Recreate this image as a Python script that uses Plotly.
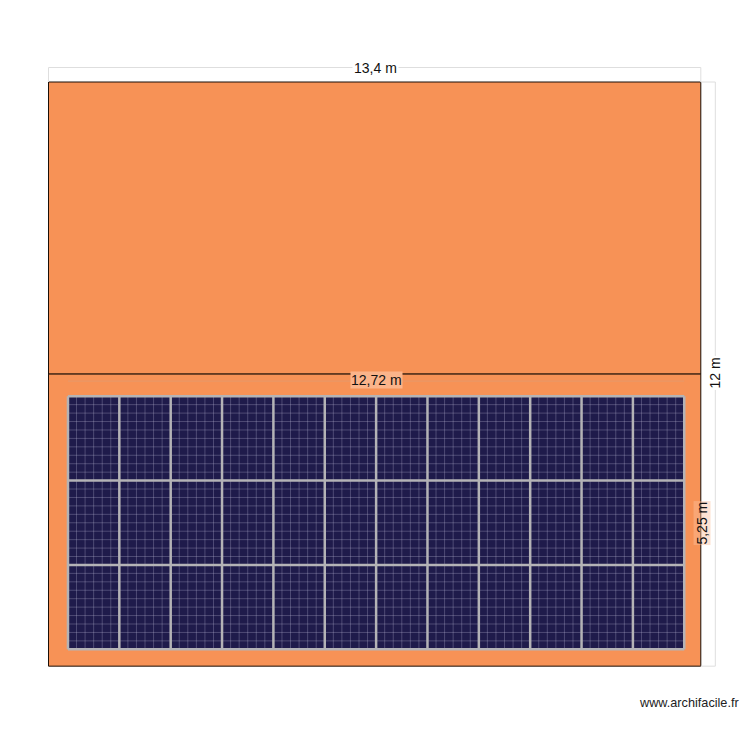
import plotly.graph_objects as go

# roof in metres, measured from the top left corner
roof_width = 13.4
roof_height = 12
ridge_y = 6
roof_sections = [(0, 6), (6, 12)]

# solar field
field_left = 0.40
field_top = 6.455
panel_w = 1.055
panel_h = 1.733
panel_cols = 12
panel_rows = 3
cell_cols = 6
cell_rows = 10

dim_labels = ["13,4 m", "12 m", "12,72 m", "5,25 m"]
credit = "www.archifacile.fr"

PX_PER_M = 48.68
ORIGIN_X = 48.5
ORIGIN_Y = 82

ROOF_COLOR = "#f79256"
PANEL_COLOR = "#1f1b4b"
FRAME_COLOR = "#b4b3b6"
CELL_COLOR = "rgba(190,185,215,0.3)"
DIM_COLOR = "#dedede"


def px_x(p):
    return (p - ORIGIN_X) / PX_PER_M


def px_y(p):
    return (p - ORIGIN_Y) / PX_PER_M


fig = go.Figure()

# roof sections
for top, bottom in roof_sections:
    fig.add_trace(go.Scatter(
        x=[0, roof_width, roof_width, 0, 0],
        y=[top, top, bottom, bottom, top],
        mode="lines",
        fill="toself",
        fillcolor=ROOF_COLOR,
        line=dict(color="#1a0f08", width=1),
        hoverinfo="skip",
    ))

# panels
field_w = panel_w * panel_cols
field_h = panel_h * panel_rows
fig.add_trace(go.Scatter(
    x=[field_left, field_left + field_w, field_left + field_w, field_left, field_left],
    y=[field_top, field_top, field_top + field_h, field_top + field_h, field_top],
    mode="lines",
    fill="toself",
    fillcolor=PANEL_COLOR,
    line=dict(width=0),
    hoverinfo="skip",
))

# cell lines inside the panels
cell_x, cell_y = [], []
for c in range(panel_cols * cell_cols + 1):
    x = field_left + c * panel_w / cell_cols
    cell_x += [x, x, None]
    cell_y += [field_top, field_top + field_h, None]
for r in range(panel_rows * cell_rows + 1):
    y = field_top + r * panel_h / cell_rows
    cell_x += [field_left, field_left + field_w, None]
    cell_y += [y, y, None]
fig.add_trace(go.Scatter(x=cell_x, y=cell_y, mode="lines",
                         line=dict(color=CELL_COLOR, width=1), hoverinfo="skip"))

# panel frames
frame_x, frame_y = [], []
for c in range(panel_cols + 1):
    x = field_left + c * panel_w
    frame_x += [x, x, None]
    frame_y += [field_top, field_top + field_h, None]
for r in range(panel_rows + 1):
    y = field_top + r * panel_h
    frame_x += [field_left, field_left + field_w, None]
    frame_y += [y, y, None]
fig.add_trace(go.Scatter(x=frame_x, y=frame_y, mode="lines",
                         line=dict(color=FRAME_COLOR, width=2.5), hoverinfo="skip"))

# dimension lines
dim_off = 14.5 / PX_PER_M
fig.add_trace(go.Scatter(
    x=[0, 0, None, 0, roof_width, None, roof_width, roof_width, None,
       roof_width, roof_width + dim_off, None,
       roof_width + dim_off, roof_width + dim_off, None,
       roof_width, roof_width + dim_off],
    y=[0, -dim_off, None, -dim_off, -dim_off, None, -dim_off, 0, None,
       0, 0, None,
       0, roof_height, None,
       roof_height, roof_height],
    mode="lines",
    line=dict(color=DIM_COLOR, width=1),
    hoverinfo="skip",
))
inner_y = ridge_y + 7 / PX_PER_M
fig.add_trace(go.Scatter(
    x=[field_left, field_left + field_w],
    y=[inner_y, inner_y],
    mode="lines",
    line=dict(color="rgba(200,170,150,0.35)", width=1),
    hoverinfo="skip",
))

label_font = dict(family="Liberation Sans, Arial, sans-serif", size=14, color="#111111")
LABEL_BG = "#fbb48a"
fig.add_annotation(x=roof_width / 2 + 1 / PX_PER_M, y=-dim_off, text=dim_labels[0], showarrow=False,
                   font=label_font, bgcolor="white", borderpad=1)
fig.add_annotation(x=roof_width + dim_off, y=roof_height / 2 - 0.02, text=dim_labels[1], showarrow=False,
                   font=label_font, bgcolor="white", textangle=-90, borderpad=1)
fig.add_annotation(x=field_left + field_w / 2, y=inner_y - 0.02, text=dim_labels[2], showarrow=False,
                   font=label_font, bgcolor=LABEL_BG, borderpad=0)
fig.add_annotation(x=roof_width + 0.02, y=field_top + field_h / 2, text=dim_labels[3], showarrow=False,
                   font=label_font, bgcolor="rgba(251,191,156,0.45)", textangle=-90, borderpad=0)
fig.add_annotation(x=px_x(741), y=px_y(703), text=credit, showarrow=False, xanchor="right",
                   font=dict(family="Liberation Sans, Arial, sans-serif", size=12.7, color="#222222"))

fig.update_xaxes(visible=False, range=[px_x(0), px_x(750)], fixedrange=True)
fig.update_yaxes(visible=False, range=[px_y(750), px_y(0)], fixedrange=True)
fig.update_layout(
    width=750,
    height=750,
    margin=dict(l=0, r=0, t=0, b=0),
    showlegend=False,
    paper_bgcolor="white",
    plot_bgcolor="white",
)

fig.write_html("out.html", config={"displayModeBar": False},
               post_script="document.body.style.margin='0';document.body.style.overflow='hidden';")
